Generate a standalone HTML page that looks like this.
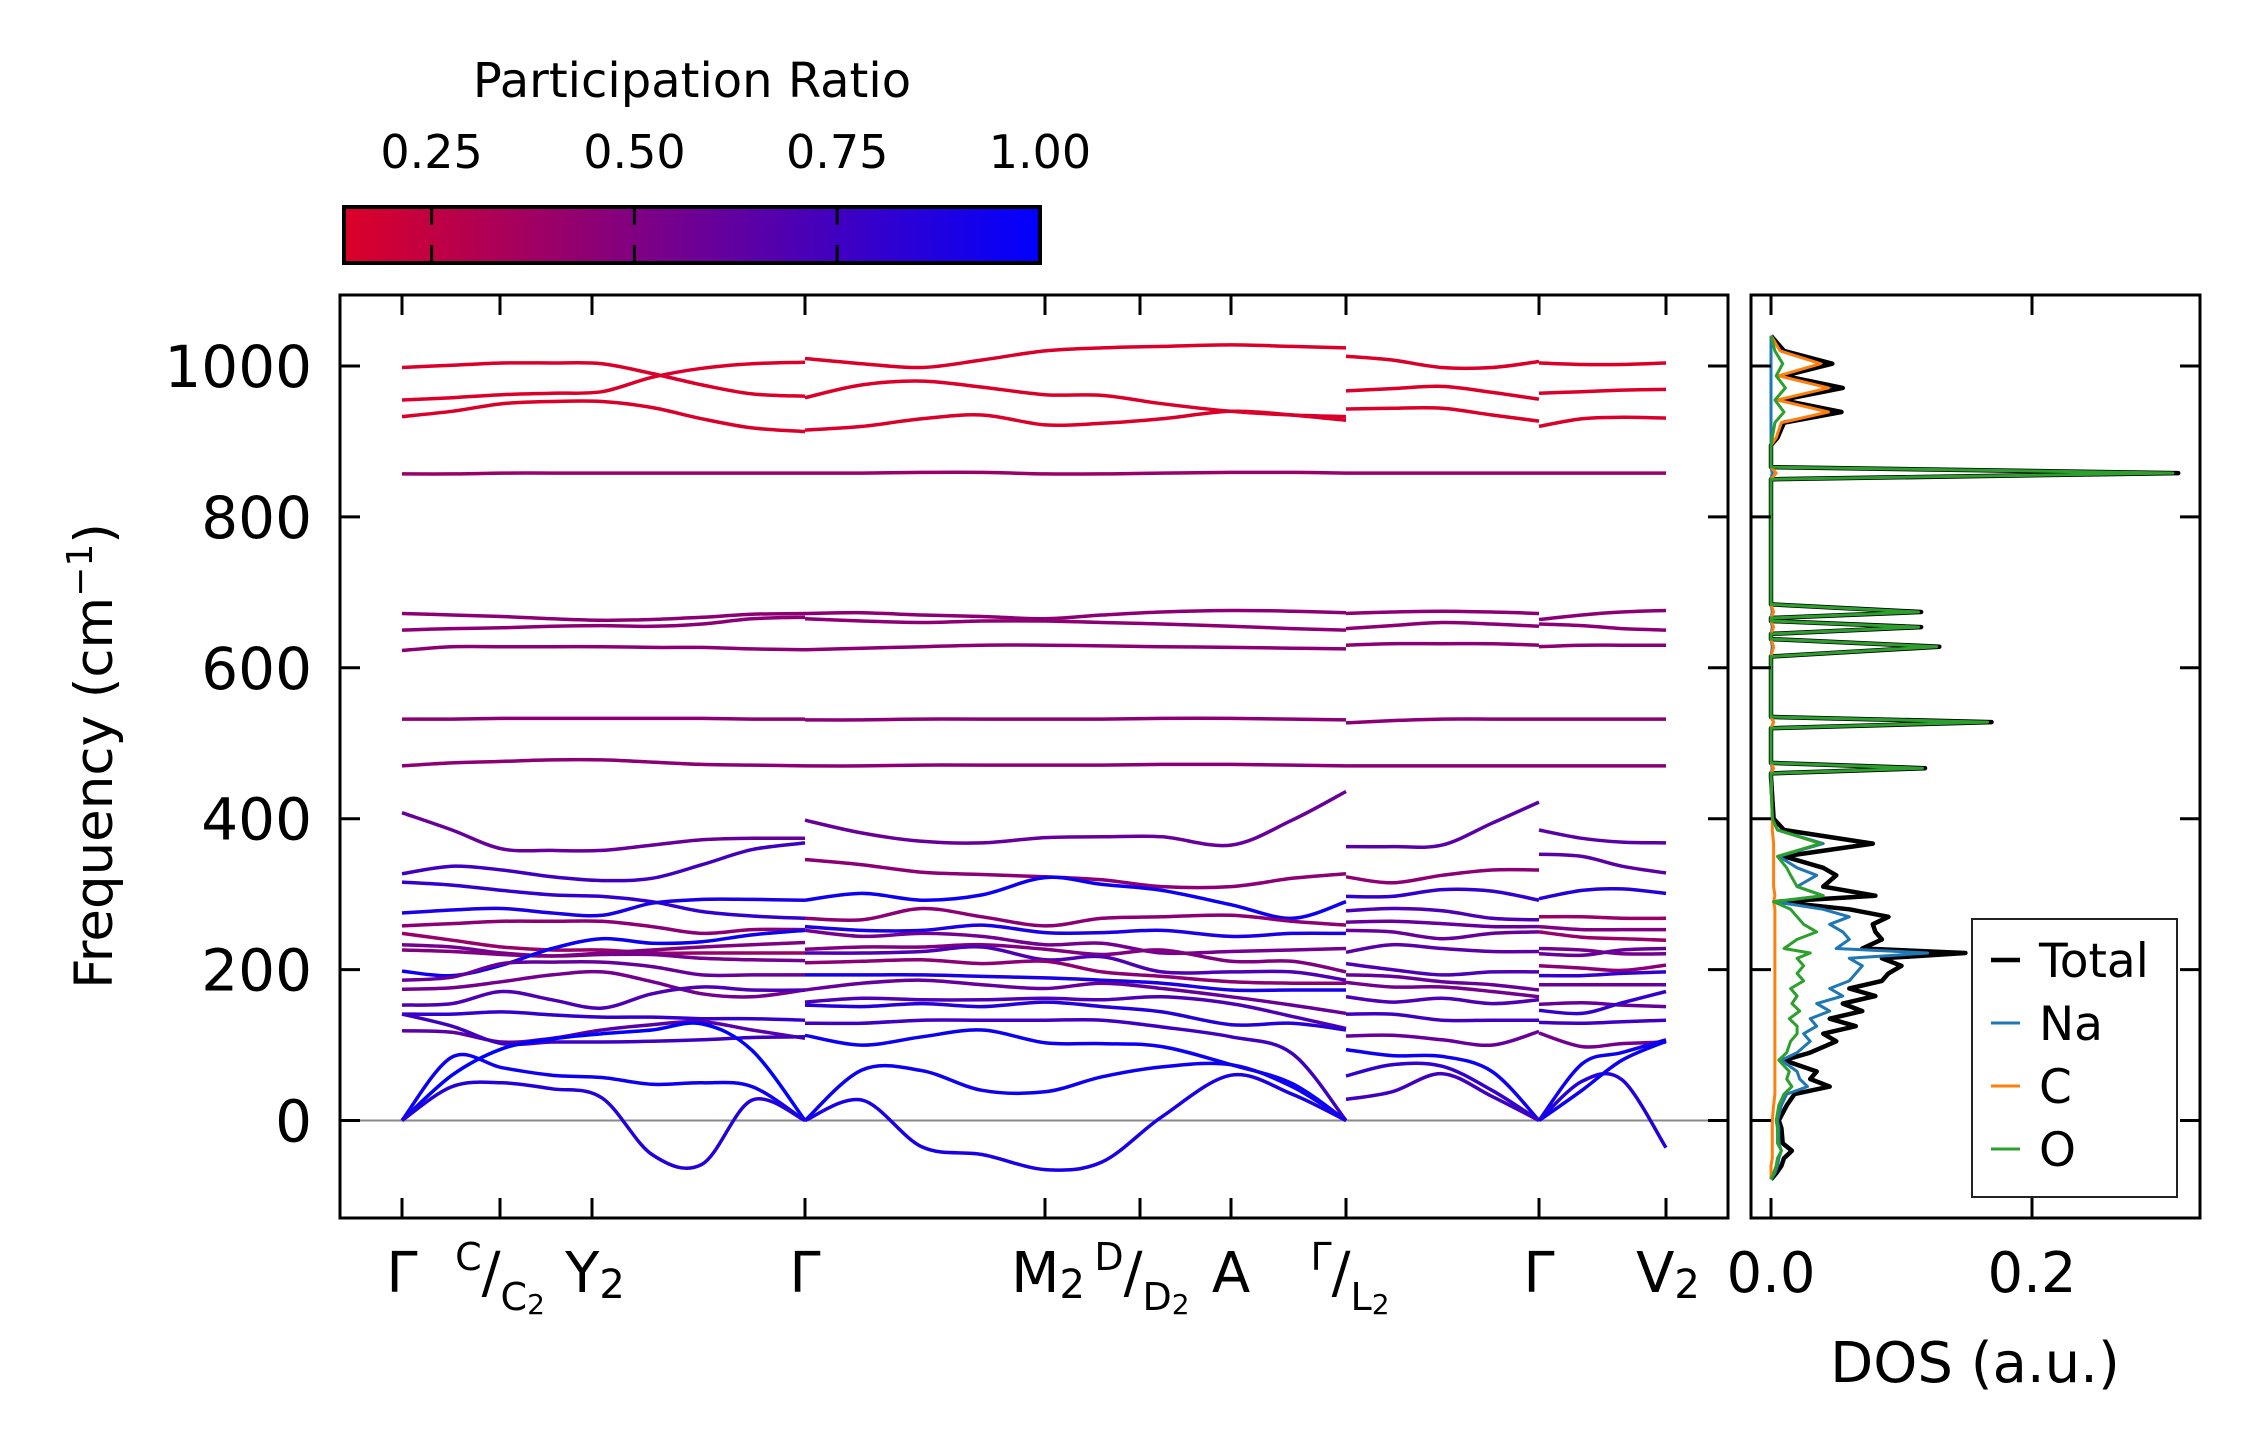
<!DOCTYPE html>
<html><head><meta charset="utf-8"><style>
html,body{margin:0;padding:0;background:#fff;}
svg{display:block;font-family:"DejaVu Sans","Liberation Sans",sans-serif;}
</style></head><body>
<svg id="fig" width="2259" height="1455" viewBox="0 0 2259 1455" xmlns="http://www.w3.org/2000/svg">
<defs>
<linearGradient id="cbgrad" x1="0" x2="1" y1="0" y2="0">
<stop offset="0" stop-color="rgb(220,0,40)"/><stop offset="1" stop-color="rgb(0,0,255)"/>
</linearGradient>
<clipPath id="mainclip"><rect x="340" y="295" width="1388" height="923"/></clipPath>
<clipPath id="dosclip"><rect x="1751" y="295" width="449" height="923"/></clipPath>
</defs>
<rect width="2259" height="1455" fill="#fff"/>
<g id="colorbar"></g>
<g id="bands" clip-path="url(#mainclip)"></g>
<g id="dos" clip-path="url(#dosclip)"></g>
<g id="axes"></g>
</svg>
<script>
// ---------- data ----------
const prTicks = [0.25, 0.50, 0.75, 1.00];
const prTickLabels = ["0.25", "0.50", "0.75", "1.00"];
const yTicks = [0, 200, 400, 600, 800, 1000];
const yTickLabels = ["0", "200", "400", "600", "800", "1000"];
const kTicks = [0, 0.98, 1.9, 4.03, 6.43, 7.38, 8.29, 9.44, 11.37, 12.64];
const dosTicks = [0.0, 0.2];
const dosTickLabels = ["0.0", "0.2"];

const seg1K = [0, 0.5, 1.0, 1.5, 2.0, 2.5, 3.0, 3.5, 4.03];
const seg1Freq = [
[998,1001,1004,1004,1003,990,975,963,960],
[955,958,962,964,966,985,997,1003,1005],
[933,940,950,953,953,945,930,918,913],
[857,857,858,858,858,858,858,858,858],
[672,670,668,665,663,664,667,671,672],
[650,652,653,655,656,655,658,665,667],
[623,628,628,628,628,627,627,625,624],
[532,532,533,533,533,533,533,532,532],
[470,474,476,478,478,475,472,471,470],
[408,385,360,358,358,365,372,374,374],
[327,337,332,323,318,321,339,359,368],
[316,312,305,299,297,290,277,271,268],
[275,279,281,275,272,288,293,293,292],
[258,261,264,264,264,257,248,253,253],
[248,239,230,226,226,222,222,222,222],
[233,230,222,218,220,220,215,213,212],
[226,224,220,218,222,226,230,233,236],
[198,192,206,228,241,235,237,246,252],
[186,190,208,210,210,204,193,193,193],
[174,176,184,193,197,184,168,164,173],
[153,155,171,160,149,168,177,173,173],
[141,141,144,140,137,137,135,135,133],
[119,117,104,109,120,127,131,120,109],
[141,125,102,104,104,105,107,110,111],
[0,84,70,60,57,48,50,45,0],
[0,60,95,108,115,120,128,93,0],
[0,45,50,42,30,-45,-58,27,0]
];
const seg1PR = [0.15,0.15,0.15,0.4,0.45,0.45,0.45,0.45,0.45,0.6,0.75,0.8,0.9,0.45,0.4,0.55,0.5,0.95,0.6,0.55,0.7,0.8,0.65,0.75,0.95,1.0,0.85];

const seg2K = [4.03, 4.6, 5.2, 5.8, 6.43, 7.0, 7.6, 8.29, 8.9, 9.44];
const seg2Freq = [
[1010,1003,998,1008,1020,1024,1026,1028,1026,1024],
[958,975,980,972,962,961,950,940,935,933],
[915,920,930,935,922,924,930,940,935,928],
[858,858,859,859,857,857,858,859,859,858],
[672,673,670,668,665,670,674,676,675,673],
[665,662,660,662,662,660,658,655,652,650],
[624,626,628,630,630,629,628,627,626,625],
[531,531,532,532,532,532,533,533,532,531],
[470,470,471,471,471,471,472,472,471,470],
[398,381,370,368,375,376,376,365,398,436],
[346,339,329,326,323,319,310,310,321,327],
[292,301,292,299,322,313,305,286,268,290],
[268,266,281,270,258,268,270,272,264,259],
[257,252,252,259,249,249,252,244,248,248],
[252,244,248,244,233,235,222,224,226,228],
[227,230,230,233,227,220,226,211,211,197],
[222,222,224,230,213,217,197,197,197,186],
[209,211,213,208,211,197,191,184,182,182],
[193,193,193,191,189,186,182,173,173,173],
[173,182,186,180,175,182,175,164,153,142],
[157,162,160,160,162,160,164,155,138,122],
[153,151,155,151,157,151,144,127,129,120],
[129,129,133,133,133,133,124,111,89,0],
[113,100,111,120,103,102,98,74,49,0],
[0,67,66,40,38,58,71,74,45,0],
[0,27,-35,-45,-65,-55,5,60,35,0]
];
const seg2PR = [0.15,0.15,0.15,0.4,0.45,0.45,0.45,0.45,0.45,0.6,0.45,0.95,0.45,0.9,0.55,0.5,0.7,0.45,0.9,0.6,0.7,0.85,0.75,0.95,0.95,0.9];

const seg3K = [9.44, 9.9, 10.4, 10.9, 11.37];
const seg3Freq = [
[1013,1008,998,998,1006],
[967,970,973,965,956],
[943,944,944,935,927],
[858,858,858,858,858],
[672,674,675,674,672],
[652,656,660,658,655],
[630,632,632,632,630],
[527,530,532,532,532],
[470,470,470,470,470],
[363,363,365,394,422],
[323,315,325,332,332],
[297,297,306,304,292],
[278,281,278,268,266],
[263,264,261,257,257],
[252,250,241,248,250],
[223,233,228,224,224],
[208,200,193,197,197],
[193,191,184,180,173],
[183,177,177,171,164],
[164,157,162,155,160],
[141,141,133,133,133],
[112,113,107,100,118],
[94,86,85,65,0],
[59,74,72,40,0],
[28,38,62,32,0]
];
const seg3PR = [0.15,0.15,0.15,0.4,0.45,0.45,0.45,0.45,0.45,0.65,0.45,0.8,0.7,0.6,0.6,0.65,0.7,0.6,0.55,0.7,0.75,0.6,0.95,0.8,0.75];

const seg4K = [11.37, 11.8, 12.2, 12.64];
const seg4Freq = [
[1004,1002,1002,1004],
[964,966,968,969],
[920,930,932,931],
[858,858,858,858],
[664,670,674,676],
[658,656,652,650],
[628,630,630,630],
[532,532,532,532],
[470,470,470,470],
[385,374,369,368],
[353,350,337,328],
[294,305,307,301],
[270,270,268,268],
[257,253,253,253],
[250,243,241,239],
[228,226,221,221],
[221,219,226,228],
[205,202,199,206],
[192,192,195,197],
[180,180,180,180],
[154,156,153,151],
[146,142,156,171],
[130,129,131,133],
[116,98,102,104],
[0,75,90,107],
[0,52,54,-36],
[0,40,80,105]
];
const seg4PR = [0.15,0.15,0.15,0.4,0.45,0.45,0.45,0.45,0.45,0.65,0.65,0.85,0.4,0.5,0.4,0.55,0.6,0.45,0.8,0.6,0.6,0.8,0.75,0.55,0.95,0.85,0.95];

const dosFreq  = [-78,-70,-60,-50,-40,-30,-10,0,20,35,45,55,65,80,90,105,115,125,135,145,155,165,175,185,195,205,215,222,228,240,250,260,270,280,290,298,310,325,335,350,367,385,400,455,460,467,474,480,515,520,528,535,540,605,615,628,638,645,654,662,666,674,684,690,845,850,858,866,872,895,905,925,939,955,971,987,1003,1020,1040];
const dosTotal = [0,0.004,0.008,0.01,0.016,0.009,0.008,0.006,0.012,0.018,0.045,0.03,0.035,0.01,0.03,0.05,0.04,0.065,0.045,0.07,0.055,0.08,0.06,0.085,0.09,0.1,0.085,0.149,0.07,0.085,0.08,0.078,0.09,0.06,0.005,0.08,0.04,0.05,0.04,0.01,0.078,0.01,0.002,0,0,0.118,0,0,0,0,0.169,0,0,0,0,0.129,0,0,0.115,0,0,0.115,0,0,0,0,0.312,0,0,0,0.005,0.01,0.054,0.008,0.055,0.01,0.047,0.01,0];
const dosNa    = [0,0.003,0.005,0.006,0.008,0.006,0.006,0.005,0.008,0.012,0.028,0.022,0.02,0.008,0.02,0.03,0.025,0.035,0.03,0.045,0.035,0.055,0.045,0.06,0.065,0.07,0.06,0.12,0.05,0.06,0.055,0.045,0.06,0.04,0.003,0.04,0.02,0.035,0.02,0.006,0.04,0.005,0.001,0,0,0.001,0,0,0,0,0.002,0,0,0,0,0.001,0,0,0.001,0,0,0.001,0,0,0,0,0.001,0,0,0,0,0,0,0,0,0,0,0,0];
const dosC     = [0,0,0,0.001,0.001,0.001,0.001,0.001,0.002,0.003,0.003,0.003,0.003,0.003,0.003,0.003,0.003,0.003,0.003,0.003,0.003,0.003,0.003,0.003,0.003,0.003,0.003,0.003,0.003,0.003,0.003,0.003,0.003,0.003,0.002,0.003,0.002,0.002,0.002,0.002,0.002,0.001,0.001,0,0,0.002,0,0,0,0,0.002,0,0,0,0,0.002,0,0,0.002,0,0,0.002,0,0,0,0,0.004,0,0,0,0.004,0.008,0.044,0.005,0.044,0.006,0.038,0.007,0];
const dosO     = [0,0.002,0.004,0.005,0.008,0.005,0.005,0.004,0.006,0.01,0.016,0.012,0.014,0.006,0.012,0.015,0.02,0.02,0.014,0.022,0.016,0.02,0.015,0.025,0.02,0.025,0.02,0.03,0.01,0.02,0.035,0.025,0.02,0.015,0.002,0.04,0.02,0.015,0.012,0.005,0.038,0.005,0.001,0,0,0.116,0,0,0,0,0.166,0,0,0,0,0.127,0,0,0.113,0,0,0.113,0,0,0,0,0.308,0,0,0,0.001,0.003,0.01,0.003,0.011,0.004,0.009,0.003,0];

const legendLabels = ["Total", "Na", "C", "O"];
const legendColors = ["#000000", "#1f77b4", "#ff7f0e", "#2ca02c"];

// ---------- scales ----------
const NS = "http://www.w3.org/2000/svg";
const AX = {l:340, r:1728, t:295, b:1218};
const DX = {l:1751, r:2200, t:295, b:1218};
const kDom = [-0.62, 13.26], fDom = [-129.2, 1094.1];
function xK(k){ return AX.l + (k - kDom[0]) / (kDom[1]-kDom[0]) * (AX.r-AX.l); }
function yF(f){ return AX.b - (f - fDom[0]) / (fDom[1]-fDom[0]) * (AX.b-AX.t); }
function xD(d){ return 1771 + d / 0.2 * 261; }
const prDom = [0.142, 1.0];
function xPR(p){ return 344 + (p - prDom[0]) / (prDom[1]-prDom[0]) * 696; }
function prColor(p){
  const t = Math.max(0, Math.min(1, (p - prDom[0]) / (prDom[1]-prDom[0])));
  return `rgb(${Math.round(220*(1-t))},0,${Math.round(40+215*t)})`;
}
function mk(tag, attrs, parent){
  const e = document.createElementNS(NS, tag);
  for (const a in attrs) e.setAttribute(a, attrs[a]);
  if (parent) parent.appendChild(e);
  return e;
}
function crPath(xs, ys){
  const n = xs.length; let d = `M${xs[0].toFixed(1)},${ys[0].toFixed(1)}`;
  for (let i = 0; i < n-1; i++){
    const x0 = xs[Math.max(0,i-1)], y0 = ys[Math.max(0,i-1)];
    const x1 = xs[i], y1 = ys[i], x2 = xs[i+1], y2 = ys[i+1];
    const x3 = xs[Math.min(n-1,i+2)], y3 = ys[Math.min(n-1,i+2)];
    const c1x = x1 + (x2-x0)/6, c1y = y1 + (y2-y0)/6;
    const c2x = x2 - (x3-x1)/6, c2y = y2 - (y3-y1)/6;
    d += ` C${c1x.toFixed(1)},${c1y.toFixed(1)} ${c2x.toFixed(1)},${c2y.toFixed(1)} ${x2.toFixed(1)},${y2.toFixed(1)}`;
  }
  return d;
}

// ---------- colorbar ----------
const cb = document.getElementById('colorbar');
const cbt = mk('text', {x:692, y:97, 'font-size':48, 'text-anchor':'middle', fill:'#000'}, cb);
cbt.textContent = 'Participation Ratio';


const cbr = mk('rect', {x:344, y:207, width:696, height:56, fill:'url(#cbgrad)', stroke:'#000', 'stroke-width':4}, cb);


prTicks.forEach((p, i) => {
  const x = xPR(p);
  if (p < 0.999){
    mk('line', {x1:x, x2:x, y1:207, y2:225, stroke:'#000', 'stroke-width':3}, cb);
    mk('line', {x1:x, x2:x, y1:245, y2:263, stroke:'#000', 'stroke-width':3}, cb);
  }
  const t = mk('text', {x:x, y:168, 'font-size':46, 'text-anchor':'middle', fill:'#000'}, cb);
  t.textContent = prTickLabels[i];
  
  
});

// ---------- bands ----------
const bandsG = document.getElementById('bands');
const zl = mk('line', {x1:AX.l, x2:AX.r, y1:yF(0), y2:yF(0), stroke:'#888', 'stroke-width':2}, bandsG);


const segs = [[seg1K, seg1Freq, seg1PR], [seg2K, seg2Freq, seg2PR], [seg3K, seg3Freq, seg3PR], [seg4K, seg4Freq, seg4PR]];
segs.forEach((s, si) => {
  const K = s[0], F = s[1], P = s[2];
  F.forEach((f, bi) => {
    const p = mk('path', {d: crPath(K.map(xK), f.map(yF)), fill:'none', stroke: prColor(P[bi]), 'stroke-width':3.5, 'stroke-linejoin':'round'}, bandsG);
    
    
  });
});

// ---------- DOS ----------
const dosG = document.getElementById('dos');
const dosSeries = [[dosTotal, legendColors[0], 4.5], [dosNa, legendColors[1], 3], [dosC, legendColors[2], 3], [dosO, legendColors[3], 3]];
dosSeries.forEach((s, i) => {
  const pts = dosFreq.map((f, j) => `${xD(s[0][j]).toFixed(1)},${yF(f).toFixed(1)}`).join(' ');
  const pl = mk('polyline', {points: pts, fill:'none', stroke:s[1], 'stroke-width':s[2], 'stroke-linejoin':'round'}, dosG);
  
  
});

// ---------- axes ----------
const ax = document.getElementById('axes');
const mf = mk('rect', {x:AX.l, y:AX.t, width:AX.r-AX.l, height:AX.b-AX.t, fill:'none', stroke:'#000', 'stroke-width':3}, ax);


const df = mk('rect', {x:DX.l, y:DX.t, width:DX.r-DX.l, height:DX.b-DX.t, fill:'none', stroke:'#000', 'stroke-width':3}, ax);


const TL = 20;
yTicks.forEach((v, i) => {
  const y = yF(v);
  mk('line', {x1:AX.l, x2:AX.l+TL, y1:y, y2:y, stroke:'#000', 'stroke-width':3}, ax);
  mk('line', {x1:AX.r-TL, x2:AX.r, y1:y, y2:y, stroke:'#000', 'stroke-width':3}, ax);
  mk('line', {x1:DX.l, x2:DX.l+TL, y1:y, y2:y, stroke:'#000', 'stroke-width':3}, ax);
  mk('line', {x1:DX.r-TL, x2:DX.r, y1:y, y2:y, stroke:'#000', 'stroke-width':3}, ax);
  const t = mk('text', {x:312, y:y+21, 'font-size':58, 'text-anchor':'end', fill:'#000'}, ax);
  t.textContent = yTickLabels[i];
  
  
});
kTicks.forEach(k => {
  const x = xK(k);
  mk('line', {x1:x, x2:x, y1:AX.b, y2:AX.b-TL, stroke:'#000', 'stroke-width':3}, ax);
  mk('line', {x1:x, x2:x, y1:AX.t, y2:AX.t+TL, stroke:'#000', 'stroke-width':3}, ax);
});
dosTicks.forEach((d, i) => {
  const x = xD(d);
  mk('line', {x1:x, x2:x, y1:DX.b, y2:DX.b-TL, stroke:'#000', 'stroke-width':3}, ax);
  mk('line', {x1:x, x2:x, y1:DX.t, y2:DX.t+TL, stroke:'#000', 'stroke-width':3}, ax);
  const t = mk('text', {x:x, y:1292, 'font-size':56, 'text-anchor':'middle', fill:'#000'}, ax);
  t.textContent = dosTickLabels[i];
  
  
});
// x tick labels (high-symmetry points)
const kLab = document.createElementNS(NS, 'g');
ax.appendChild(kLab);
kLab.innerHTML =
 '<text x="402" y="1292" font-size="56" text-anchor="middle">Γ</text>' +
 '<text x="500" y="1292" font-size="56" text-anchor="middle"><tspan font-size="38" dy="-22">C</tspan><tspan dy="22">/</tspan><tspan font-size="38" dy="18">C</tspan><tspan font-size="28" dy="4">2</tspan></text>' +
 '<text x="595" y="1292" font-size="56" text-anchor="middle">Y<tspan font-size="40" dy="6">2</tspan></text>' +
 '<text x="805" y="1292" font-size="56" text-anchor="middle">Γ</text>' +
 '<text x="1048" y="1292" font-size="56" text-anchor="middle">M<tspan font-size="40" dy="6">2</tspan></text>' +
 '<text x="1142" y="1292" font-size="56" text-anchor="middle"><tspan font-size="38" dy="-22">D</tspan><tspan dy="22">/</tspan><tspan font-size="38" dy="18">D</tspan><tspan font-size="28" dy="4">2</tspan></text>' +
 '<text x="1231" y="1292" font-size="56" text-anchor="middle">A</text>' +
 '<text x="1350" y="1292" font-size="56" text-anchor="middle"><tspan font-size="38" dy="-22">Γ</tspan><tspan dy="22">/</tspan><tspan font-size="38" dy="18">L</tspan><tspan font-size="28" dy="4">2</tspan></text>' +
 '<text x="1539" y="1292" font-size="56" text-anchor="middle">Γ</text>' +
 '<text x="1668" y="1292" font-size="56" text-anchor="middle">V<tspan font-size="40" dy="6">2</tspan></text>';


Array.from(kLab.children).forEach(c => {
  
  
});
const yl = mk('text', {x:0, y:0, 'font-size':53, 'text-anchor':'middle', transform:'translate(112,756) rotate(-90)'}, ax);
yl.innerHTML = 'Frequency (cm<tspan font-size="36" dy="-20">−1</tspan><tspan dy="20">)</tspan>';


const xl = mk('text', {x:1975, y:1382, 'font-size':56, 'text-anchor':'middle'}, ax);
xl.textContent = 'DOS (a.u.)';



// legend
const lg = mk('g', {}, ax);


mk('rect', {x:1972, y:919, width:205, height:278, fill:'#fff', stroke:'#222', 'stroke-width':2}, lg);
legendLabels.forEach((lab, i) => {
  const y = 960 + i * 63;
  const g = mk('g', {}, lg);
  
  
  mk('line', {x1:1991, x2:2020, y1:y, y2:y, stroke:legendColors[i], 'stroke-width': i===0?4.5:3}, g);
  const t = mk('text', {x:2039, y:y+17, 'font-size':47}, g);
  t.textContent = lab;
});
</script>
</body></html>
